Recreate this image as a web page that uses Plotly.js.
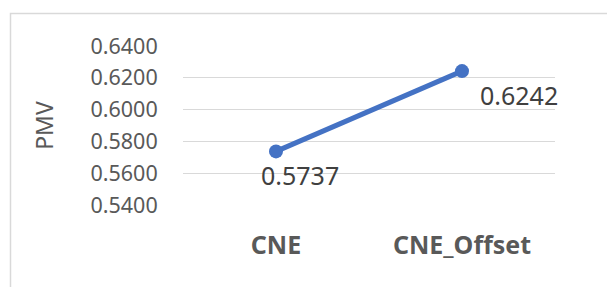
<!DOCTYPE html>
<html>
<head>
<meta charset="utf-8">
<script src="https://cdn.plot.ly/plotly-3.0.1.min.js"></script>
<style>
html,body{margin:0;padding:0;background:#fff;}
#chart{width:607px;height:287px;}
</style>
</head>
<body>
<div id="chart"></div>
<script>
const categories = ["CNE", "CNE_Offset"];
const pmvValues = [0.5737, 0.6242];
const yTickValues = [0.54, 0.56, 0.58, 0.60, 0.62, 0.64];
const yTickLabels = ["0.5400", "0.5600", "0.5800", "0.6000", "0.6200", "0.6400"];

const labelShiftX = [24, 57];
const labelShiftY = [-24, -24];

const FONT = "Noto Sans, Open Sans, sans-serif";

const trace = {
  type: "scatter",
  mode: "lines+markers",
  x: categories,
  y: pmvValues,
  line: {color: "#4472C4", width: 5},
  marker: {color: "#4472C4", size: 14},
  hoverinfo: "skip",
  cliponaxis: false
};

const annotations = categories.map((c, i) => ({
  x: c, y: pmvValues[i], xref: "x", yref: "y",
  text: pmvValues[i].toFixed(4),
  showarrow: false,
  xanchor: "center", yanchor: "middle",
  xshift: labelShiftX[i], yshift: labelShiftY[i],
  font: {family: FONT, size: 25, color: "#404040"}
}));

const layout = {
  width: 607, height: 287,
  margin: {l: 183, r: 52, t: 46, b: 82, pad: 0},
  paper_bgcolor: "#ffffff",
  plot_bgcolor: "#ffffff",
  showlegend: false,
  xaxis: {
    type: "category",
    range: [-0.5, 1.5],
    showgrid: false, zeroline: false, showline: false,
    ticks: "outside", ticklen: 18, tickcolor: "rgba(0,0,0,0)",
    tickfont: {family: FONT, size: 25, color: "#595959", weight: "bold"},
    automargin: false
  },
  yaxis: {
    range: [0.54, 0.64],
    tickvals: yTickValues,
    ticktext: yTickLabels,
    showgrid: true, gridcolor: "#D9D9D9", gridwidth: 1.3,
    zeroline: false, showline: false,
    ticks: "outside", ticklen: 20, tickcolor: "rgba(0,0,0,0)",
    tickfont: {family: FONT, size: 21.5, color: "#595959"},
    title: {text: "PMV", font: {family: FONT, size: 23, color: "#595959"}, standoff: 30},
    automargin: false
  },
  annotations: annotations,
  shapes: [{
    type: "rect", xref: "paper", yref: "paper",
    x0: -0.4637, x1: 1.2, y0: -0.7, y1: 1.2044,
    line: {color: "#D9D9D9", width: 1.5},
    fillcolor: "rgba(0,0,0,0)", layer: "below"
  }]
};

Plotly.newPlot("chart", [trace], layout, {staticPlot: true, displayModeBar: false});
</script>
</body>
</html>
